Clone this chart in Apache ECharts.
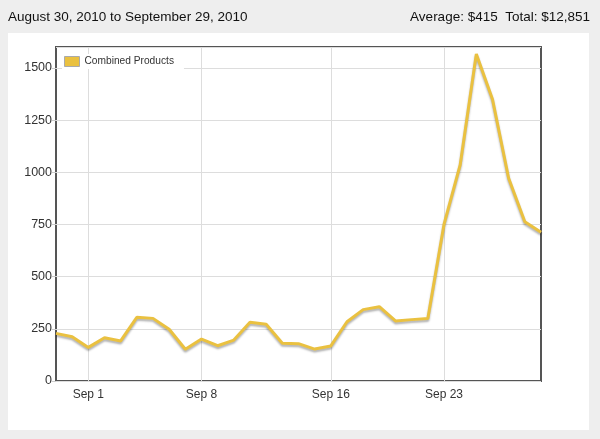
<!DOCTYPE html>
<html><head><meta charset="utf-8">
<script src="https://cdn.jsdelivr.net/npm/echarts@6/dist/echarts.min.js"></script>
<style>html,body{margin:0;padding:0;background:#eeeeee;}#c{width:600px;height:439px;}</style>
</head><body><div id="c"></div>
<script>
var categories = ['Aug 30','Aug 31','Sep 1','Sep 2','Sep 3','Sep 4','Sep 5','Sep 6','Sep 7','Sep 8','Sep 9','Sep 10','Sep 11','Sep 12','Sep 13','Sep 14','Sep 15','Sep 16','Sep 17','Sep 18','Sep 19','Sep 20','Sep 21','Sep 22','Sep 23','Sep 24','Sep 25','Sep 26','Sep 27','Sep 28','Sep 29'];
var combinedProducts = [228,212,161,207,192,305,300,248,152,201,169,196,281,272,181,179,153,168,284,342,356,288,294,299,750,1035,1567,1350,971,763,712];
var labeledDays = ['Sep 1','Sep 8','Sep 16','Sep 23'];
var yTicks = [0,250,500,750,1000,1250,1500];
var headerLeft = 'August 30, 2010 to September 29, 2010';
var headerRight = 'Average: $415  Total: $12,851';
var seriesName = 'Combined Products';

var font = 'Liberation Sans, Arial, sans-serif';
function showIdx(i){ return labeledDays.indexOf(categories[i]) >= 0; }
var chart = echarts.init(document.getElementById('c'), null, {renderer:'canvas'});
chart.setOption({
  backgroundColor:'#eeeeee',
  animation:false,
  graphic:[
    {type:'rect', shape:{x:8,y:33,width:581,height:397}, style:{fill:'#ffffff'}, z:-10},
    {type:'text', left:8, top:10, style:{text:headerLeft, font:'13.5px '+font, fill:'#111'}},
    {type:'text', right:10, top:10, style:{text:headerRight, font:'13.5px '+font, fill:'#111'}}
  ],
  grid:{left:56, top:47, width:485, height:334, show:true, borderColor:'#555', borderWidth:2, backgroundColor:'transparent'},
  legend:{left:62, top:54, data:[seriesName], icon:'rect', itemWidth:15, itemHeight:10, itemGap:6,
    padding:[2,10,2,2], backgroundColor:'#fff',
    itemStyle:{borderColor:'#aaa', borderWidth:1},
    textStyle:{fontFamily:font, fontSize:10.2, color:'#333'}},
  xAxis:{type:'category', data:categories, boundaryGap:false,
    axisLine:{show:false}, axisTick:{show:false},
    axisLabel:{interval:function(i){return showIdx(i);}, fontFamily:font, fontSize:12, color:'#333', margin:8},
    splitLine:{show:true, interval:function(i){return showIdx(i);}, lineStyle:{color:'#dddddd', width:1}}},
  yAxis:{type:'value', min:0, max:1600, interval:250,
    axisLine:{show:false},
    axisTick:{show:true, length:4, lineStyle:{color:'#cccccc'}},
    axisLabel:{showMaxLabel:false, fontFamily:font, fontSize:12.5, color:'#333', margin:4,
      formatter:function(v){return yTicks.indexOf(v)>=0 ? String(v) : '';}},
    splitLine:{show:true, lineStyle:{color:'#dddddd', width:1}}},
  series:[{name:seriesName, type:'line', data:combinedProducts, symbol:'none',
    color:'#eac140',
    lineStyle:{color:'#eac140', width:3, shadowColor:'rgba(0,0,0,0.3)', shadowBlur:2, shadowOffsetY:2},
    itemStyle:{color:'#eac140'}}]
});
</script></body></html>
